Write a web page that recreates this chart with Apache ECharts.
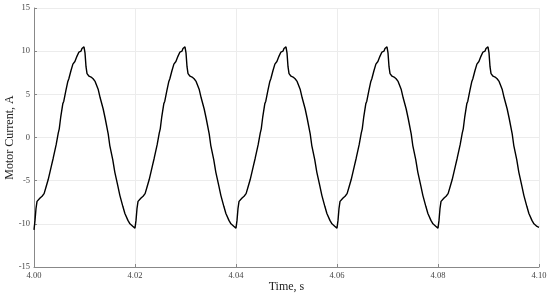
<!DOCTYPE html>
<html>
<head>
<meta charset="utf-8">
<script src="https://cdn.jsdelivr.net/npm/echarts@6/dist/echarts.min.js"></script>
<style>
html, body { margin: 0; padding: 0; background: #fff; }
#main { width: 550px; height: 297px; }
</style>
</head>
<body>
<div id="main"></div>
<script>
// start time of every period (s)
var cycleStart = [4.00, 4.02, 4.04, 4.06, 4.08];
// time inside a period (ms), shared by all periods
var phaseMs = [0.0, 0.2, 0.4, 0.6, 0.8, 1.2, 1.6, 2.0, 2.4, 2.8, 3.0, 3.4, 3.8, 4.0, 4.4, 4.8,
	5.0, 5.3, 5.7, 5.9, 6.3, 6.7, 6.9, 7.3, 7.7, 8.1, 8.5, 8.9, 9.1, 9.3, 9.5, 9.7,
	9.9, 10.1, 10.3, 10.5, 10.9, 11.3, 11.7, 12.1, 12.3, 12.7, 13.1, 13.3, 13.7, 14.1, 14.3, 14.7,
	15.0, 15.2, 15.6, 16.0, 16.2, 16.6, 17.0, 17.2, 17.6, 18.0, 18.2, 18.6, 19.0, 19.2, 19.6, 19.8];
// motor current (A), one array per period
var cycle1 = [-10.7, -9.6, -8.2, -7.4, -7.2, -7.0, -6.8, -6.5, -5.7, -4.9, -4.7, -3.4, -2.4, -2.2, -0.8, 0.5,
	1.0, 2.4, 3.9, 4.2, 5.4, 6.5, 6.8, 7.7, 8.5, 8.8, 9.4, 9.9, 10.0, 10.0, 10.3, 10.5,
	10.5, 9.8, 8.2, 7.4, 7.1, 7.0, 6.8, 6.5, 6.3, 5.6, 4.6, 4.4, 3.3, 2.2, 2.0, 0.4,
	-0.9, -1.1, -2.6, -4.0, -4.2, -5.6, -6.7, -6.9, -8.0, -8.8, -9.0, -9.6, -10.0, -10.0, -10.3, -10.5];
var cycle2 = [-10.5, -9.6, -8.2, -7.4, -7.2, -7.0, -6.8, -6.5, -5.7, -4.9, -4.7, -3.4, -2.4, -2.2, -0.8, 0.5,
	1.0, 2.4, 3.9, 4.2, 5.4, 6.5, 6.8, 7.7, 8.5, 8.8, 9.4, 9.9, 10.0, 10.0, 10.3, 10.5,
	10.5, 9.8, 8.2, 7.4, 7.1, 7.0, 6.8, 6.5, 6.3, 5.6, 4.6, 4.4, 3.3, 2.2, 2.0, 0.4,
	-0.9, -1.1, -2.6, -4.0, -4.2, -5.6, -6.7, -6.9, -8.0, -8.8, -9.0, -9.6, -10.0, -10.0, -10.3, -10.5];
var cycle3 = [-10.5, -9.6, -8.2, -7.4, -7.2, -7.0, -6.8, -6.5, -5.7, -4.9, -4.7, -3.4, -2.4, -2.2, -0.8, 0.5,
	1.0, 2.4, 3.9, 4.2, 5.4, 6.5, 6.8, 7.7, 8.5, 8.8, 9.4, 9.9, 10.0, 10.0, 10.3, 10.5,
	10.5, 9.8, 8.2, 7.4, 7.1, 7.0, 6.8, 6.5, 6.3, 5.6, 4.6, 4.4, 3.3, 2.2, 2.0, 0.4,
	-0.9, -1.1, -2.6, -4.0, -4.2, -5.6, -6.7, -6.9, -8.0, -8.8, -9.0, -9.6, -10.0, -10.0, -10.3, -10.5];
var cycle4 = [-10.5, -9.6, -8.2, -7.4, -7.2, -7.0, -6.8, -6.5, -5.7, -4.9, -4.7, -3.4, -2.4, -2.2, -0.8, 0.5,
	1.0, 2.4, 3.9, 4.2, 5.4, 6.5, 6.8, 7.7, 8.5, 8.8, 9.4, 9.9, 10.0, 10.0, 10.3, 10.5,
	10.5, 9.8, 8.2, 7.4, 7.1, 7.0, 6.8, 6.5, 6.3, 5.6, 4.6, 4.4, 3.3, 2.2, 2.0, 0.4,
	-0.9, -1.1, -2.6, -4.0, -4.2, -5.6, -6.7, -6.9, -8.0, -8.8, -9.0, -9.6, -10.0, -10.0, -10.3, -10.5];
var cycle5 = [-10.5, -9.6, -8.2, -7.4, -7.2, -7.0, -6.8, -6.5, -5.7, -4.9, -4.7, -3.4, -2.4, -2.2, -0.8, 0.5,
	1.0, 2.4, 3.9, 4.2, 5.4, 6.5, 6.8, 7.7, 8.5, 8.8, 9.4, 9.9, 10.0, 10.0, 10.3, 10.5,
	10.5, 9.8, 8.2, 7.4, 7.1, 7.0, 6.8, 6.5, 6.3, 5.6, 4.6, 4.4, 3.3, 2.2, 2.0, 0.4,
	-0.9, -1.1, -2.6, -4.0, -4.2, -5.6, -6.7, -6.9, -8.0, -8.8, -9.0, -9.6, -10.0, -10.0, -10.3, -10.4];
// last sample at 4.10 s
var endTime = 4.10;
var endCurrent = -10.4;

var xTicks = ['4.00', '4.02', '4.04', '4.06', '4.08', '4.10'];
var yTicks = [-15, -10, -5, 0, 5, 10, 15];

var cycles = [cycle1, cycle2, cycle3, cycle4, cycle5];
var lineData = [];
for (var k = 0; k < cycles.length; k++) {
	for (var i = 0; i < phaseMs.length; i++) {
		lineData.push([cycleStart[k] + phaseMs[i] / 1000, cycles[k][i]]);
	}
}
lineData.push([endTime, endCurrent]);

var serif = '"Liberation Serif", "DejaVu Serif", serif';
var myChart = echarts.init(document.getElementById('main'));
myChart.setOption({
	animation: false,
	backgroundColor: '#fff',
	grid: { left: 34, right: 11, top: 8, bottom: 30, containLabel: false, outerBoundsMode: 'none' },
	xAxis: {
		type: 'value',
		min: 4.00,
		max: 4.10,
		interval: 0.02,
		name: 'Time, s',
		nameLocation: 'middle',
		nameGap: 14,
		nameMoveOverlap: false,
		nameTextStyle: { fontFamily: serif, fontSize: 12, color: '#222' },
		axisLine: { onZero: false, lineStyle: { color: '#888', width: 1 } },
		axisTick: { inside: true, length: 3, lineStyle: { color: '#888' } },
		axisLabel: {
			fontFamily: serif, fontSize: 8.5, color: '#444', margin: 4,
			formatter: function(v) {
				var idx = Math.round((v - 4.00) / 0.02);
				return xTicks[idx] !== undefined ? xTicks[idx] : '';
			}
		},
		splitLine: { show: true, lineStyle: { color: '#ececec', width: 1 } }
	},
	yAxis: {
		type: 'value',
		min: -15,
		max: 15,
		interval: 5,
		name: 'Motor Current, A',
		nameLocation: 'middle',
		nameGap: 18,
		nameMoveOverlap: false,
		nameTextStyle: { fontFamily: serif, fontSize: 12, color: '#222' },
		axisLine: { show: true, lineStyle: { color: '#888', width: 1 } },
		axisTick: { show: true, inside: true, length: 3, lineStyle: { color: '#888' } },
		axisLabel: {
			fontFamily: serif, fontSize: 8.5, color: '#444', margin: 4,
			formatter: function(v) {
				return yTicks.indexOf(v) >= 0 ? String(v) : '';
			}
		},
		splitLine: { show: true, lineStyle: { color: '#ececec', width: 1 } }
	},
	series: [{
		name: 'Motor Current',
		type: 'line',
		data: lineData,
		showSymbol: false,
		smooth: false,
		lineStyle: { color: '#000', width: 1.4 }
	}]
});
</script>
</body>
</html>
